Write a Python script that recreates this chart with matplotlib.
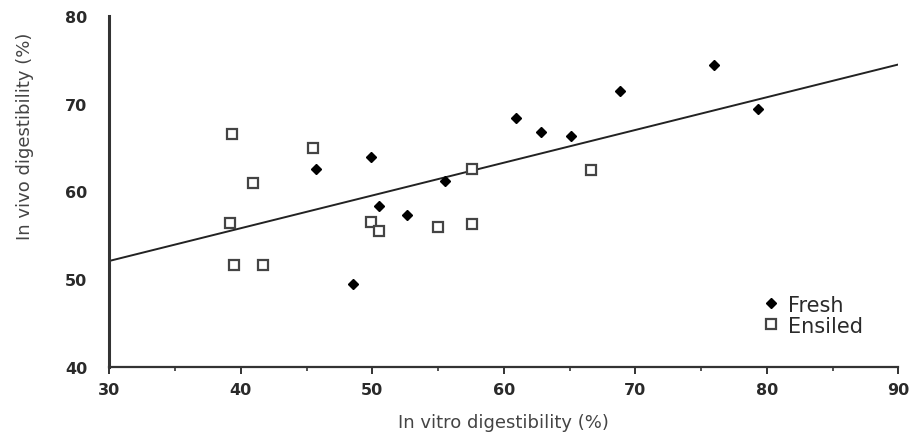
import numpy as np
import matplotlib
matplotlib.use("Agg")
import matplotlib.pyplot as plt
from matplotlib.ticker import MultipleLocator

# values
fresh_x = [45.7, 49.9, 50.5, 52.6, 48.5, 55.5, 60.9, 62.8, 65.1, 68.8, 76.0, 79.3]
fresh_y = [62.6, 63.9, 58.3, 57.3, 49.5, 61.2, 68.4, 66.8, 66.3, 71.5, 74.4, 69.4]

ensiled_x = [39.3, 45.5, 40.9, 39.2, 39.5, 41.7, 49.9, 50.5, 55.0, 57.6, 57.6, 66.6]
ensiled_y = [66.5, 64.9, 61.0, 56.4, 51.6, 51.6, 56.5, 55.5, 56.0, 56.3, 62.6, 62.4]

# regression line: y = intercept + slope * x
fit_intercept = 40.9
fit_slope = 0.373
fit_range = [30, 90]

x_ticks = [30, 40, 50, 60, 70, 80, 90]
y_ticks = [40, 50, 60, 70, 80]

text_col = "#2a2a2a"

fig = plt.figure(figsize=(9.12, 4.35), dpi=100)
ax = fig.add_axes([0.12, 0.154, 0.865, 0.807])

xs = np.array(fit_range, dtype=float)
ax.plot(xs, fit_intercept + fit_slope * xs, color="#222222", lw=1.4, zorder=2)

ax.plot(fresh_x, fresh_y, linestyle="none", marker="D", markersize=5,
        color="black", label="Fresh", zorder=3)
ax.plot(ensiled_x, ensiled_y, linestyle="none", marker="s", markersize=7.5,
        mfc="white", mec="#444444", mew=1.6, label="Ensiled", zorder=3)

ax.set_xlim(30, 90)
ax.set_ylim(40, 80)
ax.set_xticks(x_ticks)
ax.set_yticks(y_ticks)
ax.xaxis.set_minor_locator(MultipleLocator(5))

for side in ["top", "right"]:
    ax.spines[side].set_visible(False)
ax.spines["left"].set_linewidth(2.2)
ax.spines["left"].set_color("#333333")
ax.spines["bottom"].set_linewidth(1.6)
ax.spines["bottom"].set_color("#333333")

ax.tick_params(axis="x", which="major", direction="out", length=5, width=1.4,
               pad=6, labelsize=11.5, labelcolor=text_col, color="#333333")
ax.tick_params(axis="x", which="minor", direction="out", length=3, width=1.2,
               color="#333333")
ax.tick_params(axis="y", which="major", direction="out", length=0,
               pad=16, labelsize=11.5, labelcolor=text_col)
for lab in ax.get_xticklabels() + ax.get_yticklabels():
    lab.set_fontweight("bold")

ax.set_xlabel("In vitro digestibility (%)", fontsize=13, color="#444444")
ax.set_ylabel("In vivo digestibility (%)", fontsize=13, color="#444444")
ax.xaxis.set_label_coords(0.5, -0.13)
ax.yaxis.set_label_coords(-0.095, 0.66)

leg = ax.legend(loc="upper left", bbox_to_anchor=(0.815, 0.23), frameon=False,
                fontsize=15, handletextpad=0.3, labelspacing=0.05,
                handlelength=1.0, borderaxespad=0)
for t in leg.get_texts():
    t.set_color(text_col)

fig.savefig("out.png", dpi=100)
